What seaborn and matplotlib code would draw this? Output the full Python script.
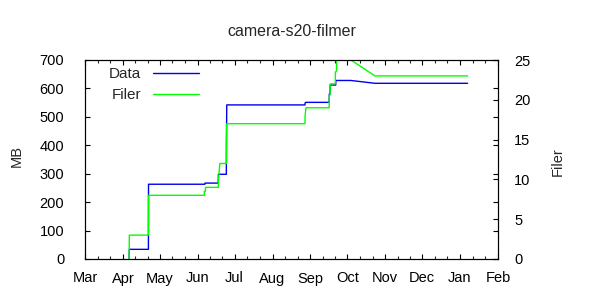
import matplotlib
matplotlib.use("Agg")
import matplotlib.pyplot as plt
import matplotlib.dates as mdates
import matplotlib.ticker as mticker
import pandas as pd
import seaborn as sns

# ---- data ----
title = "camera-s20-filmer"

data_times = [
    "2020-04-06 00:00", "2020-04-06 04:00", "2020-04-21 18:00", "2020-04-21 20:00",
    "2020-06-06 20:00", "2020-06-06 23:00", "2020-06-17 18:00", "2020-06-17 20:00",
    "2020-06-24 08:00", "2020-06-24 10:00", "2020-06-24 16:00", "2020-08-27 12:00",
    "2020-08-27 14:00", "2020-08-28 06:00", "2020-09-16 06:00", "2020-09-16 08:00",
    "2020-09-17 00:00", "2020-09-17 02:00", "2020-09-21 14:00", "2020-09-21 16:00",
    "2020-10-04 00:00", "2020-10-23 14:00", "2021-01-07 06:00",
]
data_mb = [
    0, 34, 34, 263,
    263, 267, 267, 298,
    298, 415, 542, 542,
    549, 551, 551, 580,
    582, 612, 612, 628,
    628, 618, 618,
]

filer_times = [
    "2020-04-06 00:00", "2020-04-06 04:00", "2020-04-21 18:00", "2020-04-21 20:00",
    "2020-06-06 08:00", "2020-06-06 09:00", "2020-06-07 06:00", "2020-06-07 07:00",
    "2020-06-17 18:00", "2020-06-17 20:00", "2020-06-19 00:00", "2020-06-24 10:00",
    "2020-06-24 16:00", "2020-08-27 12:00", "2020-08-27 14:00", "2020-08-28 08:00",
    "2020-09-16 06:00", "2020-09-16 08:00", "2020-09-17 00:00", "2020-09-17 02:00",
    "2020-09-21 06:00", "2020-09-21 08:00", "2020-09-22 06:00", "2020-09-22 08:00",
    "2020-10-03 22:00", "2020-10-04 00:00", "2020-10-23 14:00", "2021-01-07 06:00",
]
filer_count = [
    0, 3, 3, 8,
    8, 8.5, 8.5, 9,
    9, 9.7, 12, 12,
    17, 17, 18, 19,
    19, 20.5, 20.6, 22,
    22, 23.5, 23.6, 26,
    26, 25, 23, 23,
]

x_start, x_end = "2020-03-01", "2021-02-01"
mb_ticks = [0, 100, 200, 300, 400, 500, 600, 700]
filer_ticks = [0, 5, 10, 15, 20, 25]

# ---- style ----
sns.set_theme(style="white")
plt.rcParams["font.family"] = ["Liberation Sans", "DejaVu Sans"]
plt.rcParams["axes.edgecolor"] = "black"
plt.rcParams["axes.linewidth"] = 0.8

BLUE = "#0000f0"
GREEN = "#00ff00"
TICK_FS = 10.5

df_data = pd.DataFrame({"time": pd.to_datetime(data_times), "MB": data_mb})
df_filer = pd.DataFrame({"time": pd.to_datetime(filer_times), "Filer": filer_count})

fig = plt.figure(figsize=(6, 3), dpi=100)
ax = fig.add_axes([85 / 600, 1 - 259 / 300, 413 / 600, 199 / 300])
ax2 = ax.twinx()

sns.lineplot(data=df_data, x="time", y="MB", ax=ax, color=BLUE, linewidth=1.0,
             estimator=None, sort=False, legend=False)
sns.lineplot(data=df_filer, x="time", y="Filer", ax=ax2, color=GREEN, linewidth=1.0,
             estimator=None, sort=False, legend=False)

ax.set_xlim(pd.Timestamp(x_start), pd.Timestamp(x_end))
ax.set_ylim(0, 700)
ax2.set_ylim(0, 25)
ax.set_yticks(mb_ticks)
ax2.set_yticks(filer_ticks)

# month ticks with two minor ticks per month
months = pd.date_range(x_start, x_end, freq="MS")
minor = []
for m0, m1 in zip(months[:-1], months[1:]):
    minor.append(m0 + (m1 - m0) / 3)
    minor.append(m0 + 2 * (m1 - m0) / 3)
ax.xaxis.set_major_locator(mdates.MonthLocator())
ax.xaxis.set_major_formatter(mdates.DateFormatter("%b"))
ax.xaxis.set_minor_locator(mticker.FixedLocator(mdates.date2num(minor)))

ax.tick_params(axis="x", which="major", direction="in", length=3.6, width=0.8,
               top=True, bottom=True, pad=9, labelsize=TICK_FS, colors="black")
ax.tick_params(axis="x", which="minor", direction="in", length=2.2, width=0.8,
               top=True, bottom=True)
ax.tick_params(axis="y", which="major", direction="in", length=3.6, width=0.8,
               left=True, right=True, labelleft=True, labelright=False,
               pad=15, labelsize=TICK_FS, colors="black")
ax2.tick_params(axis="y", which="major", direction="in", length=3.6, width=0.8,
                left=False, right=True, labelright=True, pad=11.5,
                labelsize=TICK_FS, colors="black")

for a in (ax, ax2):
    for s in a.spines.values():
        s.set_color("black")
        s.set_linewidth(0.8)
    a.grid(False)

ax.set_xlabel("")
ax.set_ylabel("MB", fontsize=10.5, va="center")
ax.yaxis.set_label_coords((17 - 85) / 413, 0.52)
ax2.set_ylabel("Filer", fontsize=10.5, va="center", rotation=90)
ax2.yaxis.set_label_coords((558 - 85) / 413, 0.49)

ax.set_title(title, fontsize=11.5, pad=17)

h1 = ax.get_lines()[0]
h2 = ax2.get_lines()[0]
fig.legend([h1, h2], ["Data", "Filer"], loc="upper right",
           bbox_to_anchor=(199 / 600, 1 - 67 / 300), bbox_transform=fig.transFigure,
           frameon=False, markerfirst=False, handlelength=3.0, handletextpad=0.8,
           labelspacing=0.45, borderpad=0, borderaxespad=0, fontsize=11)

fig.savefig("out.png", dpi=100)
